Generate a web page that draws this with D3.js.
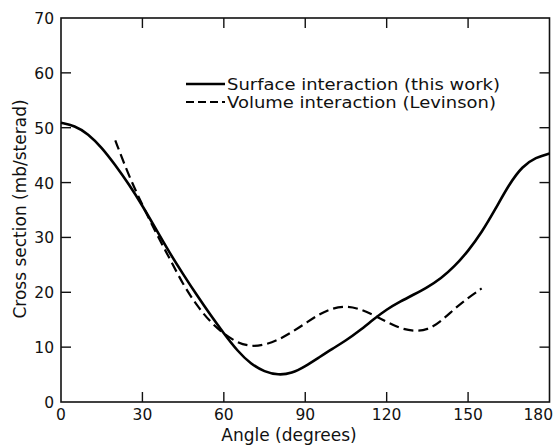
<!DOCTYPE html>
<html>
<head>
<meta charset="utf-8">
<script src="https://cdn.jsdelivr.net/npm/d3@7"></script>
<style>
  html, body { margin: 0; padding: 0; background: #fff; }
  svg { display: block; font-family: "DejaVu Sans", sans-serif; }
</style>
</head>
<body>
<svg id="chart" width="555" height="446"></svg>
<script>
// Angles (degrees) and cross sections (mb/sterad)
const surfaceAngles = [0,5,10,15,20,25,30,35,40,45,50,55,60,65,70,75,80,85,90,95,100,105,110,115,120,125,130,135,140,145,150,155,160,165,170,175,180];
const surfaceValues = [50.9,50.4,48.9,46.4,43.2,39.7,35.8,31.5,27.2,23.3,19.5,15.9,12.5,9.3,6.9,5.5,4.9,5.2,6.5,8.1,9.7,11.2,13.0,15.0,16.9,18.3,19.6,20.9,22.5,24.7,27.5,30.9,35.1,39.6,43.0,44.6,45.3];
const volumeAngles = [20,25,30,35,40,45,50,55,60,65,70,75,80,85,90,95,100,105,110,115,120,125,130,135,140,145,150,155];
const volumeValues = [47.7,41.2,35.9,30.8,26.2,21.4,17.6,14.6,12.4,10.8,10.1,10.4,11.3,12.7,14.3,16.0,17.1,17.5,17.0,15.9,14.6,13.4,12.9,13.1,14.7,17.0,19.0,20.7];

const xTicks = [0,30,60,90,120,150,180];
const yTicks = [0,10,20,30,40,50,60,70];
const legendLabels = ["Surface interaction (this work)", "Volume interaction (Levinson)"];
const xTitle = "Angle (degrees)";
const yTitle = "Cross section (mb/sterad)";

const svg = d3.select("#chart");
const plotLeft = 61, plotRight = 549.5, plotTop = 18, plotBottom = 402;

const x = d3.scaleLinear().domain([0, 180]).range([plotLeft, plotRight]);
const y = d3.scaleLinear().domain([0, 70]).range([plotBottom, plotTop]);

// Frame
svg.append("rect")
  .attr("x", plotLeft).attr("y", plotTop)
  .attr("width", plotRight - plotLeft).attr("height", plotBottom - plotTop)
  .attr("fill", "none").attr("stroke", "#111").attr("stroke-width", 1.6);

// Inward ticks on all four sides
const tickLen = 10;
const innerX = xTicks.slice(1, -1);
const innerY = yTicks.slice(1, -1);
const g = svg.append("g").attr("stroke", "#111").attr("stroke-width", 1.4);
innerX.forEach(t => {
  g.append("line").attr("x1", x(t)).attr("x2", x(t)).attr("y1", plotBottom).attr("y2", plotBottom - tickLen);
  g.append("line").attr("x1", x(t)).attr("x2", x(t)).attr("y1", plotTop).attr("y2", plotTop + tickLen);
});
innerY.forEach(t => {
  g.append("line").attr("x1", plotLeft).attr("x2", plotLeft + tickLen).attr("y1", y(t)).attr("y2", y(t));
  g.append("line").attr("x1", plotRight).attr("x2", plotRight - tickLen).attr("y1", y(t)).attr("y2", y(t));
});

// Tick labels (the last one is pulled in so it stays inside the page)
const labelFont = 15.5;
const last = xTicks[xTicks.length - 1];
svg.append("g").selectAll("text").data(xTicks).join("text")
  .attr("x", d => d === last ? 553 : x(d)).attr("y", 420)
  .attr("text-anchor", d => d === last ? "end" : "middle")
  .attr("font-size", labelFont).attr("fill", "#111")
  .text(d => d);
svg.append("g").selectAll("text").data(yTicks).join("text")
  .attr("x", 54).attr("y", d => y(d) + 6)
  .attr("text-anchor", "end")
  .attr("font-size", labelFont).attr("fill", "#111")
  .text(d => d);

// Axis titles
svg.append("text")
  .attr("x", 289).attr("y", 441)
  .attr("text-anchor", "middle")
  .attr("font-size", 17).attr("fill", "#111")
  .text(xTitle);
svg.append("text")
  .attr("transform", "translate(26,209) rotate(-90)")
  .attr("text-anchor", "middle")
  .attr("font-size", 17).attr("fill", "#111")
  .text(yTitle);

// Curves
const line = d3.line()
  .x(d => x(d[0])).y(d => y(d[1]))
  .curve(d3.curveBasis);

svg.append("path")
  .datum(surfaceAngles.map((a, i) => [a, surfaceValues[i]]))
  .attr("d", line)
  .attr("fill", "none").attr("stroke", "#000").attr("stroke-width", 2.6)
  .attr("stroke-linejoin", "round");

svg.append("path")
  .datum(volumeAngles.map((a, i) => [a, volumeValues[i]]))
  .attr("d", line)
  .attr("fill", "none").attr("stroke", "#000").attr("stroke-width", 2.2)
  .attr("stroke-dasharray", "10,5");

// Legend
const legend = svg.append("g");
const rows = [{y: 84, dash: null, w: 2.6}, {y: 102, dash: "8,4", w: 2.2}];
rows.forEach((r, i) => {
  legend.append("line")
    .attr("x1", 186).attr("x2", 225).attr("y1", r.y).attr("y2", r.y)
    .attr("stroke", "#000").attr("stroke-width", r.w)
    .attr("stroke-dasharray", r.dash);
  legend.append("text")
    .attr("x", 227).attr("y", r.y + 5.5)
    .attr("font-size", 15.5).attr("fill", "#111")
    .attr("textLength", i === 0 ? 273 : 269)
    .attr("lengthAdjust", "spacingAndGlyphs")
    .text(legendLabels[i]);
});
</script>
</body>
</html>
